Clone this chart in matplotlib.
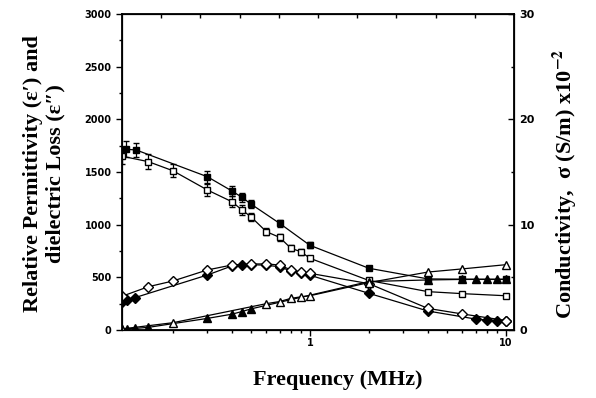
import matplotlib
matplotlib.use("Agg")
import matplotlib.pyplot as plt
from matplotlib.ticker import MultipleLocator, FixedLocator, NullFormatter

plt.rcParams['mathtext.fontset'] = 'stix'

# relative permittivity, sample A (filled squares) and B (open squares)
epsA_f = [0.115, 0.13, 0.3, 0.4, 0.45, 0.5, 0.7, 1, 2, 4, 6, 10]
epsA = [1716, 1709, 1455, 1320, 1260, 1196, 1013, 804, 586, 485, 482, 482]
epsA_err = [75, 70, 55, 50, 45, 40, 32, 30, 15, 10, 10, 10]

epsB_f = [0.11, 0.15, 0.2, 0.3, 0.4, 0.45, 0.5, 0.6, 0.7, 0.8, 0.9, 1, 2, 4, 6, 10]
epsB = [1650, 1598, 1512, 1329, 1218, 1140, 1075, 933, 880, 776, 743, 681, 470, 364, 345, 325]
epsB_err = [75, 70, 60, 55, 50, 45, 40, 35, 32, 30, 28, 25, 15, 10, 10, 10]

# dielectric loss
lossA_f = [0.11, 0.117, 0.128, 0.3, 0.4, 0.45, 0.5, 0.6, 0.7, 0.8, 0.9, 1, 2, 4, 7, 8, 9, 10]
lossA = [263, 285, 307, 522, 608, 617, 620, 615, 600, 560, 540, 520, 348, 180, 104, 95, 90, 85]
lossB_f = [0.11, 0.15, 0.2, 0.3, 0.4, 0.5, 0.6, 0.7, 0.8, 0.9, 1, 2, 4, 6, 10]
lossB = [320, 411, 465, 570, 617, 627, 627, 617, 570, 553, 538, 440, 205, 152, 90]

# conductivity (x10^-2 S/m)
sigA_f = [0.11, 0.117, 0.128, 0.15, 0.3, 0.4, 0.45, 0.5, 2, 4, 6, 7, 8, 9, 10]
sigA = [0.10, 0.12, 0.15, 0.25, 1.1, 1.5, 1.75, 2.0, 4.6, 4.75, 4.8, 4.8, 4.8, 4.8, 4.8]
sigB_f = [0.11, 0.2, 0.6, 0.7, 0.8, 0.9, 1, 2, 4, 6, 10]
sigB = [0.10, 0.69, 2.5, 2.7, 3.0, 3.15, 3.25, 4.5, 5.5, 5.8, 6.2]

serif = ['Liberation Serif', 'DejaVu Serif']

fig = plt.figure(figsize=(5.96, 3.98), dpi=100)
ax = fig.add_axes([0.2047, 0.1709, 0.6577, 0.7939])

line_kw = dict(color='black', lw=0.9)
ax.errorbar(epsA_f, epsA, yerr=epsA_err, marker='s', ms=4.5, mfc='black', mec='black',
            capsize=2.5, elinewidth=0.9, **line_kw)
ax.errorbar(epsB_f, epsB, yerr=epsB_err, marker='s', ms=4.5, mfc='white', mec='black',
            capsize=2.5, elinewidth=0.9, **line_kw)
ax.plot(lossA_f, lossA, marker='D', ms=5, mfc='black', mec='black', **line_kw)
ax.plot(lossB_f, lossB, marker='D', ms=5, mfc='white', mec='black', **line_kw)

ax.set_xscale('log')
ax.set_xlim(0.11, 11)
ax.set_ylim(0, 3000)
ax.yaxis.set_major_locator(MultipleLocator(500))
ax.yaxis.set_minor_locator(MultipleLocator(250))
ax.set_xticks([1, 10])
ax.set_xticklabels(['1', '10'])
ax.tick_params(axis='both', which='major', direction='out', length=4, width=1, labelsize=7)
ax.tick_params(axis='both', which='minor', direction='out', length=2.5, width=1)
ax.tick_params(axis='x', pad=2)
for lab in ax.get_yticklabels() + ax.get_xticklabels():
    lab.set_fontweight('bold')
for sp in ax.spines.values():
    sp.set_linewidth(1.3)

ax2 = ax.twinx()
ax2.plot(sigA_f, sigA, marker='^', ms=6, mfc='black', mec='black', **line_kw)
ax2.plot(sigB_f, sigB, marker='^', ms=6, mfc='white', mec='black', **line_kw)
ax2.set_ylim(0, 30)
ax2.yaxis.set_major_locator(MultipleLocator(10))
ax2.yaxis.set_minor_locator(MultipleLocator(5))
ax2.tick_params(axis='y', which='major', direction='in', length=4, width=1, labelsize=8, pad=4)
ax2.tick_params(axis='y', which='minor', direction='in', length=2.5, width=1)
for lab in ax2.get_yticklabels():
    lab.set_fontweight('bold')

# top axis: plain evenly spaced ticks, no labels
ax3 = ax.twiny()
ax3.set_xlim(0, 10)
ax3.xaxis.set_major_locator(FixedLocator(range(1, 10)))
ax3.xaxis.set_major_formatter(NullFormatter())
ax3.tick_params(axis='x', direction='in', length=3, width=1)

fig.text(0.074, 0.565, "Relative Permittivity (ε′) and\ndielectric Loss (ε″)",
         rotation=90, ha='center', va='center', fontsize=16, family=serif,
         fontweight='bold', linespacing=1.15)
fig.text(0.948, 0.538, r"Conductivity,  σ (S/m) x10$^{\mathbf{-2}}$",
         rotation=90, ha='center', va='center', fontsize=16, family=serif, fontweight='bold')
fig.text(0.567, 0.045, "Frequency (MHz)", ha='center', va='center', fontsize=16,
         family=serif, fontweight='bold')

fig.savefig('out.png', dpi=100)
